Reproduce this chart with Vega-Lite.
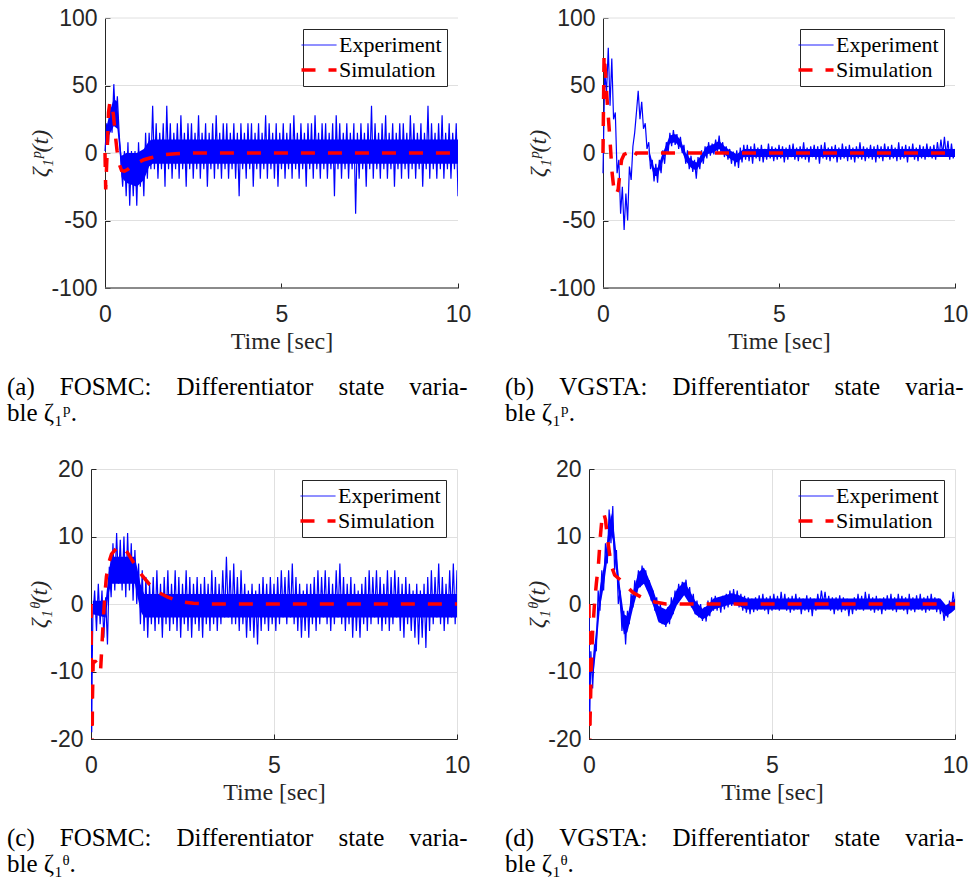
{
"$schema":"https://vega.github.io/schema/vega-lite/v6.json",
"padding":{"left":7,"top":7,"right":5,"bottom":5},
"background":"white",
"config":{
"view":{"stroke":null},
"axis":{"domainColor":"#262626","tickColor":"#262626","tickSize":-5,"labelFont":"Liberation Sans","labelFontSize":23,"labelColor":"#262626","labelFlush":false,"labelExpr":"'' + datum.value","gridColor":"#e0e0e0","titleFont":"Liberation Serif","titleFontSize":24,"titleFontWeight":"normal","titleColor":"#262626"},
"axisX":{"labelPadding":20,"titlePadding":3},
"axisY":{"labelPadding":13,"titlePadding":-2,"titleFontStyle":"italic"},
"legend":{"orient":"top-right","offset":11,"padding":5,"strokeColor":"#262626","fillColor":"white","cornerRadius":0,"labelFont":"Liberation Serif","labelFontSize":22,"labelColor":"#000000","symbolType":"stroke","symbolSize":1225,"symbolStrokeWidth":2,"rowPadding":3,"labelOffset":9,"labelLimit":0},
"title":{"orient":"bottom","anchor":"start","frame":"group","font":"Liberation Serif","fontSize":25,"fontWeight":"normal","color":"#000000","offset":22,"lineHeight":26}
},
"datasets":{
"gP":[{"g":-100},{"g":-50},{"g":0},{"g":50},{"g":100}],
"gB":[{"g":-100}],
"aB":[{"t":0.05,"lo":10,"hi":20},{"t":0.15,"lo":15,"hi":32},{"t":0.25,"lo":20,"hi":40},{"t":0.35,"lo":18,"hi":38},{"t":0.4,"lo":5,"hi":15},{"t":0.47,"lo":-18,"hi":-2},{"t":0.6,"lo":-22,"hi":0},{"t":0.9,"lo":-25,"hi":0},{"t":1.1,"lo":-20,"hi":3},{"t":1.25,"lo":-10,"hi":9},{"t":1.35,"lo":-8,"hi":10},{"t":10,"lo":-8,"hi":10}],
"bB":[{"t":1.3,"lo":-3,"hi":3},{"t":1.45,"lo":-17,"hi":-11},{"t":1.55,"lo":-17,"hi":-11},{"t":1.7,"lo":-6,"hi":0},{"t":1.9,"lo":7,"hi":13},{"t":2.05,"lo":8,"hi":14},{"t":2.2,"lo":4,"hi":10},{"t":2.35,"lo":-6,"hi":0},{"t":2.5,"lo":-11,"hi":-5},{"t":2.65,"lo":-13,"hi":-7},{"t":2.8,"lo":-7,"hi":-1},{"t":2.95,"lo":-1,"hi":5},{"t":3.1,"lo":0,"hi":6},{"t":3.3,"lo":3,"hi":9},{"t":3.45,"lo":-1,"hi":5},{"t":3.6,"lo":-4,"hi":2},{"t":3.8,"lo":-7,"hi":-1},{"t":4,"lo":-3,"hi":3},{"t":10,"lo":-3,"hi":3}],
"cB":[{"t":0.05,"lo":-1.5,"hi":0.5},{"t":0.4,"lo":-2,"hi":0.5},{"t":0.48,"lo":1.5,"hi":4.5},{"t":0.55,"lo":3,"hi":7},{"t":1.2,"lo":3,"hi":7},{"t":1.35,"lo":-1,"hi":3},{"t":1.45,"lo":-2,"hi":1.5},{"t":10,"lo":-2,"hi":1.5}],
"dB":[{"t":0.1,"lo":-11.5,"hi":-8.5},{"t":0.2,"lo":-6.5,"hi":-3.5},{"t":0.3,"lo":-0.5,"hi":2.5},{"t":0.4,"lo":2.5,"hi":5.5},{"t":0.5,"lo":6.5,"hi":9.5},{"t":0.6,"lo":10.5,"hi":13.5},{"t":0.65,"lo":9.5,"hi":12.5},{"t":0.75,"lo":4.5,"hi":7.5},{"t":0.85,"lo":-0.5,"hi":2.5},{"t":0.95,"lo":-4.5,"hi":-1.5},{"t":1.05,"lo":-4.2,"hi":-1.8},{"t":1.2,"lo":-0.7,"hi":1.7},{"t":1.35,"lo":2.3,"hi":4.7},{"t":1.5,"lo":3,"hi":5.4},{"t":1.6,"lo":1.8,"hi":4.2},{"t":1.75,"lo":-0.2,"hi":2.2},{"t":1.9,"lo":-2.7,"hi":-0.3},{"t":2.1,"lo":-3.2,"hi":-0.8},{"t":2.25,"lo":-2.2,"hi":0.2},{"t":2.4,"lo":-0.2,"hi":2.2},{"t":2.6,"lo":1.3,"hi":3.3},{"t":2.75,"lo":0,"hi":2},{"t":2.9,"lo":-1.5,"hi":0.5},{"t":3.1,"lo":-2.3,"hi":-0.7},{"t":3.25,"lo":-1.8,"hi":-0.2},{"t":3.4,"lo":-0.8,"hi":0.8},{"t":3.9,"lo":0,"hi":1.6},{"t":4.1,"lo":-0.3,"hi":1.3},{"t":4.3,"lo":-0.8,"hi":0.8},{"t":9.6,"lo":-0.8,"hi":0.8},{"t":9.75,"lo":-1.8,"hi":-0.2},{"t":9.9,"lo":-1.3,"hi":0.3},{"t":10,"lo":-0.8,"hi":0.8}],
"aE":[{"t":0,"y":1.5},{"t":0.05,"y":22},{"t":0.1,"y":8},{"t":0.15,"y":35},{"t":0.2,"y":15},{"t":0.25,"y":51},{"t":0.3,"y":22},{"t":0.35,"y":42},{"t":0.4,"y":15},{"t":0.45,"y":-5},{"t":0.5,"y":-25},{"t":0.55,"y":1.5},{"t":0.6,"y":-32},{"t":0.65,"y":8},{"t":0.7,"y":-39},{"t":0.75,"y":1.5},{"t":0.8,"y":-32},{"t":0.85,"y":1.5},{"t":0.9,"y":-39},{"t":0.95,"y":8},{"t":1,"y":-25},{"t":1.05,"y":1.5},{"t":1.1,"y":-32},{"t":1.15,"y":15},{"t":1.2,"y":-19},{"t":1.25,"y":15},{"t":1.3,"y":-12},{"t":1.35,"y":35},{"t":1.4,"y":-12},{"t":1.45,"y":22},{"t":1.5,"y":-19},{"t":1.55,"y":15},{"t":1.6,"y":-12},{"t":1.65,"y":22},{"t":1.7,"y":-25},{"t":1.75,"y":35},{"t":1.8,"y":-12},{"t":1.85,"y":22},{"t":1.9,"y":-19},{"t":1.95,"y":15},{"t":2,"y":-12},{"t":2.05,"y":22},{"t":2.1,"y":-19},{"t":2.15,"y":28},{"t":2.2,"y":-12},{"t":2.25,"y":15},{"t":2.3,"y":-25},{"t":2.35,"y":22},{"t":2.4,"y":-12},{"t":2.45,"y":22},{"t":2.5,"y":-19},{"t":2.55,"y":15},{"t":2.6,"y":-12},{"t":2.65,"y":28},{"t":2.7,"y":-19},{"t":2.75,"y":15},{"t":2.8,"y":-12},{"t":2.85,"y":22},{"t":2.9,"y":-25},{"t":2.95,"y":15},{"t":3,"y":-12},{"t":3.05,"y":22},{"t":3.1,"y":-19},{"t":3.15,"y":28},{"t":3.2,"y":-12},{"t":3.25,"y":15},{"t":3.3,"y":-19},{"t":3.35,"y":22},{"t":3.4,"y":-12},{"t":3.45,"y":22},{"t":3.5,"y":-19},{"t":3.55,"y":15},{"t":3.6,"y":-12},{"t":3.65,"y":22},{"t":3.7,"y":-19},{"t":3.75,"y":15},{"t":3.8,"y":-32},{"t":3.85,"y":22},{"t":3.9,"y":-12},{"t":3.95,"y":15},{"t":4,"y":-19},{"t":4.05,"y":22},{"t":4.1,"y":-12},{"t":4.15,"y":22},{"t":4.2,"y":-25},{"t":4.25,"y":15},{"t":4.3,"y":-12},{"t":4.35,"y":22},{"t":4.4,"y":-19},{"t":4.45,"y":15},{"t":4.5,"y":-12},{"t":4.55,"y":28},{"t":4.6,"y":-19},{"t":4.65,"y":22},{"t":4.7,"y":-12},{"t":4.75,"y":15},{"t":4.8,"y":-19},{"t":4.85,"y":22},{"t":4.9,"y":-25},{"t":4.95,"y":15},{"t":5,"y":-12},{"t":5.05,"y":22},{"t":5.1,"y":-19},{"t":5.15,"y":15},{"t":5.2,"y":-12},{"t":5.25,"y":22},{"t":5.3,"y":-19},{"t":5.35,"y":28},{"t":5.4,"y":-12},{"t":5.45,"y":15},{"t":5.5,"y":-19},{"t":5.55,"y":22},{"t":5.6,"y":-12},{"t":5.65,"y":15},{"t":5.7,"y":-25},{"t":5.75,"y":22},{"t":5.8,"y":-12},{"t":5.85,"y":22},{"t":5.9,"y":-19},{"t":5.95,"y":28},{"t":6,"y":-12},{"t":6.05,"y":15},{"t":6.1,"y":-19},{"t":6.15,"y":22},{"t":6.2,"y":-12},{"t":6.25,"y":22},{"t":6.3,"y":-19},{"t":6.35,"y":15},{"t":6.4,"y":-12},{"t":6.45,"y":22},{"t":6.5,"y":-32},{"t":6.55,"y":28},{"t":6.6,"y":-12},{"t":6.65,"y":22},{"t":6.7,"y":-19},{"t":6.75,"y":15},{"t":6.8,"y":-12},{"t":6.85,"y":22},{"t":6.9,"y":-19},{"t":6.95,"y":15},{"t":7,"y":-12},{"t":7.05,"y":22},{"t":7.1,"y":-45},{"t":7.15,"y":15},{"t":7.2,"y":-19},{"t":7.25,"y":22},{"t":7.3,"y":-12},{"t":7.35,"y":15},{"t":7.4,"y":-25},{"t":7.45,"y":22},{"t":7.5,"y":-12},{"t":7.55,"y":35},{"t":7.6,"y":-19},{"t":7.65,"y":22},{"t":7.7,"y":-12},{"t":7.75,"y":15},{"t":7.8,"y":-19},{"t":7.85,"y":22},{"t":7.9,"y":-12},{"t":7.95,"y":28},{"t":8,"y":-19},{"t":8.05,"y":15},{"t":8.1,"y":-12},{"t":8.15,"y":22},{"t":8.2,"y":-25},{"t":8.25,"y":15},{"t":8.3,"y":-12},{"t":8.35,"y":22},{"t":8.4,"y":-19},{"t":8.45,"y":22},{"t":8.5,"y":-12},{"t":8.55,"y":15},{"t":8.6,"y":-19},{"t":8.65,"y":28},{"t":8.7,"y":-12},{"t":8.75,"y":22},{"t":8.8,"y":-19},{"t":8.85,"y":15},{"t":8.9,"y":-12},{"t":8.95,"y":22},{"t":9,"y":-25},{"t":9.05,"y":15},{"t":9.1,"y":-12},{"t":9.15,"y":35},{"t":9.2,"y":-19},{"t":9.25,"y":22},{"t":9.3,"y":-12},{"t":9.35,"y":15},{"t":9.4,"y":-19},{"t":9.45,"y":22},{"t":9.5,"y":-12},{"t":9.55,"y":28},{"t":9.6,"y":-19},{"t":9.65,"y":15},{"t":9.7,"y":-12},{"t":9.75,"y":22},{"t":9.8,"y":-19},{"t":9.85,"y":15},{"t":9.9,"y":-12},{"t":9.95,"y":22},{"t":10,"y":-32}],
"aS":[{"t":0,"y":0},{"t":0.02,"y":-27},{"t":0.06,"y":0},{"t":0.1,"y":30},{"t":0.14,"y":38},{"t":0.19,"y":36},{"t":0.24,"y":28},{"t":0.29,"y":14},{"t":0.34,"y":2},{"t":0.4,"y":-8},{"t":0.47,"y":-13},{"t":0.55,"y":-13.5},{"t":0.65,"y":-12},{"t":0.8,"y":-9},{"t":0.95,"y":-7},{"t":1.1,"y":-5},{"t":1.3,"y":-3.5},{"t":1.6,"y":-1.5},{"t":2,"y":-0.5},{"t":2.5,"y":0},{"t":10,"y":0}],
"bE":[{"t":0,"y":-15},{"t":0.05,"y":60},{"t":0.1,"y":45},{"t":0.15,"y":78},{"t":0.2,"y":35},{"t":0.25,"y":70},{"t":0.3,"y":25},{"t":0.35,"y":30},{"t":0.4,"y":-15},{"t":0.45,"y":-5},{"t":0.5,"y":-45},{"t":0.55,"y":-25},{"t":0.6,"y":-57},{"t":0.65,"y":-30},{"t":0.7,"y":-50},{"t":0.75,"y":-10},{"t":0.8,"y":-20},{"t":0.85,"y":5},{"t":0.9,"y":15},{"t":0.95,"y":30},{"t":1,"y":46},{"t":1.05,"y":25},{"t":1.1,"y":38},{"t":1.15,"y":18},{"t":1.2,"y":22},{"t":1.25,"y":3},{"t":1.3,"y":8},{"t":1.35,"y":-12},{"t":1.4,"y":-5},{"t":1.45,"y":-21},{"t":1.5,"y":-8},{"t":1.55,"y":-22},{"t":1.6,"y":-5},{"t":1.65,"y":-15},{"t":1.7,"y":2},{"t":1.75,"y":-8},{"t":1.8,"y":8},{"t":1.85,"y":0},{"t":1.9,"y":15},{"t":1.95,"y":5},{"t":2,"y":17},{"t":2.05,"y":6},{"t":2.1,"y":14},{"t":2.15,"y":3},{"t":2.2,"y":12},{"t":2.25,"y":0},{"t":2.3,"y":6},{"t":2.35,"y":-8},{"t":2.4,"y":2},{"t":2.45,"y":-12},{"t":2.5,"y":-2},{"t":2.55,"y":-14},{"t":2.6,"y":-5},{"t":2.65,"y":-19},{"t":2.7,"y":-3},{"t":2.75,"y":-12},{"t":2.8,"y":2},{"t":2.85,"y":-8},{"t":2.9,"y":5},{"t":2.95,"y":-4},{"t":3,"y":8},{"t":3.05,"y":-2},{"t":3.1,"y":7},{"t":3.15,"y":-1},{"t":3.2,"y":10},{"t":3.25,"y":1},{"t":3.3,"y":13},{"t":3.35,"y":0},{"t":3.4,"y":8},{"t":3.45,"y":-3},{"t":3.5,"y":5},{"t":3.55,"y":-5},{"t":3.6,"y":3},{"t":3.65,"y":-8},{"t":3.7,"y":1},{"t":3.75,"y":-10},{"t":3.8,"y":2},{"t":3.85,"y":-11},{"t":3.9,"y":4},{"t":3.95,"y":-7},{"t":4,"y":6},{"t":4.05,"y":-5},{"t":4.1,"y":6},{"t":4.15,"y":-6},{"t":4.2,"y":5},{"t":4.25,"y":-8},{"t":4.3,"y":7},{"t":4.35,"y":-4},{"t":4.4,"y":4},{"t":4.45,"y":-6},{"t":4.5,"y":6},{"t":4.55,"y":-7},{"t":4.6,"y":3},{"t":4.65,"y":-5},{"t":4.7,"y":7},{"t":4.75,"y":-4},{"t":4.8,"y":5},{"t":4.85,"y":-6},{"t":4.9,"y":4},{"t":4.95,"y":-5},{"t":5,"y":6},{"t":5.05,"y":-4},{"t":5.1,"y":5},{"t":5.15,"y":-7},{"t":5.2,"y":4},{"t":5.25,"y":-5},{"t":5.3,"y":6},{"t":5.35,"y":-3},{"t":5.4,"y":7},{"t":5.45,"y":-5},{"t":5.5,"y":4},{"t":5.55,"y":-6},{"t":5.6,"y":5},{"t":5.65,"y":-4},{"t":5.7,"y":8},{"t":5.75,"y":-5},{"t":5.8,"y":4},{"t":5.85,"y":-7},{"t":5.9,"y":5},{"t":5.95,"y":-3},{"t":6,"y":6},{"t":6.05,"y":-5},{"t":6.1,"y":5},{"t":6.15,"y":-8},{"t":6.2,"y":6},{"t":6.25,"y":-4},{"t":6.3,"y":8},{"t":6.35,"y":-5},{"t":6.4,"y":4},{"t":6.45,"y":-6},{"t":6.5,"y":5},{"t":6.55,"y":-4},{"t":6.6,"y":6},{"t":6.65,"y":-7},{"t":6.7,"y":4},{"t":6.75,"y":-5},{"t":6.8,"y":7},{"t":6.85,"y":-4},{"t":6.9,"y":5},{"t":6.95,"y":-6},{"t":7,"y":6},{"t":7.05,"y":-5},{"t":7.1,"y":4},{"t":7.15,"y":-7},{"t":7.2,"y":5},{"t":7.25,"y":-4},{"t":7.3,"y":8},{"t":7.35,"y":-5},{"t":7.4,"y":5},{"t":7.45,"y":-6},{"t":7.5,"y":4},{"t":7.55,"y":-4},{"t":7.6,"y":6},{"t":7.65,"y":-5},{"t":7.7,"y":5},{"t":7.75,"y":-7},{"t":7.8,"y":6},{"t":7.85,"y":-4},{"t":7.9,"y":5},{"t":7.95,"y":-6},{"t":8,"y":7},{"t":8.05,"y":-3},{"t":8.1,"y":5},{"t":8.15,"y":-5},{"t":8.2,"y":6},{"t":8.25,"y":-4},{"t":8.3,"y":4},{"t":8.35,"y":-6},{"t":8.4,"y":8},{"t":8.45,"y":-5},{"t":8.5,"y":5},{"t":8.55,"y":-4},{"t":8.6,"y":6},{"t":8.65,"y":-7},{"t":8.7,"y":5},{"t":8.75,"y":-3},{"t":8.8,"y":7},{"t":8.85,"y":-5},{"t":8.9,"y":4},{"t":8.95,"y":-6},{"t":9,"y":6},{"t":9.05,"y":-4},{"t":9.1,"y":5},{"t":9.15,"y":-5},{"t":9.2,"y":7},{"t":9.25,"y":-3},{"t":9.3,"y":5},{"t":9.35,"y":-4},{"t":9.4,"y":6},{"t":9.45,"y":-5},{"t":9.5,"y":8},{"t":9.55,"y":-2},{"t":9.6,"y":10},{"t":9.65,"y":-1},{"t":9.7,"y":12},{"t":9.75,"y":-2},{"t":9.8,"y":9},{"t":9.85,"y":-5},{"t":9.9,"y":7},{"t":9.95,"y":-4},{"t":10,"y":3}],
"bS":[{"t":0,"y":0},{"t":0.03,"y":73},{"t":0.07,"y":60},{"t":0.12,"y":38},{"t":0.17,"y":20},{"t":0.21,"y":5},{"t":0.26,"y":-15},{"t":0.31,"y":-27},{"t":0.37,"y":-31},{"t":0.43,"y":-27},{"t":0.48,"y":-15},{"t":0.53,"y":-5},{"t":0.6,"y":-1},{"t":0.7,"y":0},{"t":0.8,"y":-4},{"t":0.88,"y":-3},{"t":0.95,"y":0},{"t":1.2,"y":0},{"t":10,"y":0}],
"cE":[{"t":0,"y":0},{"t":0.02,"y":-19},{"t":0.035,"y":-8},{"t":0.05,"y":-2},{"t":0.1,"y":2},{"t":0.15,"y":-4},{"t":0.2,"y":3},{"t":0.25,"y":-3},{"t":0.3,"y":2},{"t":0.35,"y":-5},{"t":0.4,"y":1},{"t":0.45,"y":-6},{"t":0.5,"y":5.5},{"t":0.55,"y":1},{"t":0.6,"y":9},{"t":0.65,"y":2},{"t":0.7,"y":10.5},{"t":0.75,"y":3},{"t":0.8,"y":9.5},{"t":0.85,"y":2},{"t":0.9,"y":10},{"t":0.95,"y":1},{"t":1,"y":10.5},{"t":1.05,"y":2},{"t":1.1,"y":9},{"t":1.15,"y":0.5},{"t":1.2,"y":8},{"t":1.25,"y":0},{"t":1.3,"y":6},{"t":1.35,"y":-3},{"t":1.4,"y":5},{"t":1.45,"y":-4},{"t":1.5,"y":4},{"t":1.55,"y":-5},{"t":1.6,"y":3},{"t":1.65,"y":-3},{"t":1.7,"y":4},{"t":1.75,"y":-4},{"t":1.8,"y":5},{"t":1.85,"y":-3},{"t":1.9,"y":3},{"t":1.95,"y":-5},{"t":2,"y":4},{"t":2.05,"y":-3},{"t":2.1,"y":5},{"t":2.15,"y":-4},{"t":2.2,"y":3},{"t":2.25,"y":-3},{"t":2.3,"y":5},{"t":2.35,"y":-4},{"t":2.4,"y":4},{"t":2.45,"y":-5},{"t":2.5,"y":3},{"t":2.55,"y":-3},{"t":2.6,"y":5},{"t":2.65,"y":-4},{"t":2.7,"y":4},{"t":2.75,"y":-5},{"t":2.8,"y":3},{"t":2.85,"y":-3},{"t":2.9,"y":4},{"t":2.95,"y":-4},{"t":3,"y":3},{"t":3.05,"y":-5},{"t":3.1,"y":4},{"t":3.15,"y":-3},{"t":3.2,"y":3},{"t":3.25,"y":-4},{"t":3.3,"y":5},{"t":3.35,"y":-3},{"t":3.4,"y":4},{"t":3.45,"y":-4},{"t":3.5,"y":3},{"t":3.55,"y":-3},{"t":3.6,"y":5},{"t":3.65,"y":-2},{"t":3.7,"y":7},{"t":3.75,"y":-2},{"t":3.8,"y":5},{"t":3.85,"y":-3},{"t":3.9,"y":6},{"t":3.95,"y":-3},{"t":4,"y":4},{"t":4.05,"y":-4},{"t":4.1,"y":5},{"t":4.15,"y":-3},{"t":4.2,"y":3},{"t":4.25,"y":-5},{"t":4.3,"y":2},{"t":4.35,"y":-4},{"t":4.4,"y":3},{"t":4.45,"y":-5},{"t":4.5,"y":2},{"t":4.55,"y":-6},{"t":4.6,"y":3},{"t":4.65,"y":-4},{"t":4.7,"y":4},{"t":4.75,"y":-3},{"t":4.8,"y":3},{"t":4.85,"y":-4},{"t":4.9,"y":4},{"t":4.95,"y":-3},{"t":5,"y":3},{"t":5.05,"y":-4},{"t":5.1,"y":4},{"t":5.15,"y":-3},{"t":5.2,"y":5},{"t":5.25,"y":-2},{"t":5.3,"y":4},{"t":5.35,"y":-3},{"t":5.4,"y":5},{"t":5.45,"y":-2},{"t":5.5,"y":6},{"t":5.55,"y":-3},{"t":5.6,"y":4},{"t":5.65,"y":-4},{"t":5.7,"y":3},{"t":5.75,"y":-5},{"t":5.8,"y":2},{"t":5.85,"y":-4},{"t":5.9,"y":3},{"t":5.95,"y":-5},{"t":6,"y":3},{"t":6.05,"y":-3},{"t":6.1,"y":4},{"t":6.15,"y":-4},{"t":6.2,"y":5},{"t":6.25,"y":-3},{"t":6.3,"y":4},{"t":6.35,"y":-2},{"t":6.4,"y":5},{"t":6.45,"y":-3},{"t":6.5,"y":4},{"t":6.55,"y":-4},{"t":6.6,"y":3},{"t":6.65,"y":-3},{"t":6.7,"y":5},{"t":6.75,"y":-2},{"t":6.8,"y":6},{"t":6.85,"y":-3},{"t":6.9,"y":4},{"t":6.95,"y":-4},{"t":7,"y":3},{"t":7.05,"y":-3},{"t":7.1,"y":4},{"t":7.15,"y":-5},{"t":7.2,"y":3},{"t":7.25,"y":-4},{"t":7.3,"y":2},{"t":7.35,"y":-5},{"t":7.4,"y":3},{"t":7.45,"y":-3},{"t":7.5,"y":4},{"t":7.55,"y":-4},{"t":7.6,"y":5},{"t":7.65,"y":-3},{"t":7.7,"y":4},{"t":7.75,"y":-2},{"t":7.8,"y":5},{"t":7.85,"y":-3},{"t":7.9,"y":4},{"t":7.95,"y":-4},{"t":8,"y":3},{"t":8.05,"y":-3},{"t":8.1,"y":5},{"t":8.15,"y":-4},{"t":8.2,"y":4},{"t":8.25,"y":-3},{"t":8.3,"y":5},{"t":8.35,"y":-2},{"t":8.4,"y":4},{"t":8.45,"y":-4},{"t":8.5,"y":3},{"t":8.55,"y":-5},{"t":8.6,"y":4},{"t":8.65,"y":-3},{"t":8.7,"y":3},{"t":8.75,"y":-4},{"t":8.8,"y":2},{"t":8.85,"y":-5},{"t":8.9,"y":3},{"t":8.95,"y":-6},{"t":9,"y":2},{"t":9.05,"y":-5},{"t":9.1,"y":3},{"t":9.15,"y":-6.5},{"t":9.2,"y":4},{"t":9.25,"y":-4},{"t":9.3,"y":5},{"t":9.35,"y":-3},{"t":9.4,"y":4},{"t":9.45,"y":-2},{"t":9.5,"y":6},{"t":9.55,"y":-3},{"t":9.6,"y":4},{"t":9.65,"y":-4},{"t":9.7,"y":3},{"t":9.75,"y":-3},{"t":9.8,"y":5},{"t":9.85,"y":-2},{"t":9.9,"y":6},{"t":9.95,"y":-3},{"t":10,"y":5}],
"cS":[{"t":0,"y":0},{"t":0.012,"y":-12},{"t":0.025,"y":-25},{"t":0.04,"y":-14},{"t":0.06,"y":-8.5},{"t":0.12,"y":-8.5},{"t":0.2,"y":-9},{"t":0.26,"y":-10},{"t":0.3,"y":-6},{"t":0.34,"y":-2},{"t":0.38,"y":1.5},{"t":0.42,"y":4},{"t":0.48,"y":6},{"t":0.56,"y":7.4},{"t":0.7,"y":8.3},{"t":0.85,"y":8.5},{"t":1,"y":7.6},{"t":1.2,"y":5.8},{"t":1.4,"y":4.2},{"t":1.6,"y":2.9},{"t":1.85,"y":1.7},{"t":2.1,"y":1},{"t":2.4,"y":0.4},{"t":2.8,"y":0.1},{"t":3.2,"y":0},{"t":10,"y":0}],
"dE":[{"t":0,"y":0},{"t":0.02,"y":-17},{"t":0.05,"y":-7},{"t":0.1,"y":-12.5},{"t":0.15,"y":-6},{"t":0.2,"y":-7},{"t":0.25,"y":2},{"t":0.3,"y":-1},{"t":0.35,"y":5},{"t":0.4,"y":2},{"t":0.45,"y":9},{"t":0.5,"y":6},{"t":0.55,"y":14},{"t":0.6,"y":9},{"t":0.65,"y":14.5},{"t":0.7,"y":5},{"t":0.75,"y":8},{"t":0.8,"y":0},{"t":0.85,"y":2},{"t":0.9,"y":-4},{"t":0.95,"y":-1},{"t":1,"y":-6},{"t":1.05,"y":-1},{"t":1.1,"y":-3},{"t":1.15,"y":1.5},{"t":1.2,"y":-0.5},{"t":1.25,"y":3.5},{"t":1.3,"y":1.5},{"t":1.35,"y":5},{"t":1.4,"y":2.5},{"t":1.45,"y":5.7},{"t":1.5,"y":3},{"t":1.55,"y":5},{"t":1.6,"y":2},{"t":1.65,"y":3.5},{"t":1.7,"y":0.5},{"t":1.75,"y":2},{"t":1.8,"y":-1},{"t":1.85,"y":1},{"t":1.9,"y":-2.5},{"t":1.95,"y":0},{"t":2,"y":-3},{"t":2.05,"y":-1},{"t":2.1,"y":-3.4},{"t":2.15,"y":-0.5},{"t":2.2,"y":-3},{"t":2.25,"y":1},{"t":2.3,"y":-1.5},{"t":2.35,"y":2},{"t":2.4,"y":0},{"t":2.45,"y":3},{"t":2.5,"y":1},{"t":2.55,"y":3.3},{"t":2.6,"y":1.5},{"t":2.65,"y":3.6},{"t":2.7,"y":1},{"t":2.75,"y":2.5},{"t":2.8,"y":-0.5},{"t":2.85,"y":1.5},{"t":2.9,"y":-1.5},{"t":2.95,"y":0.5},{"t":3,"y":-2},{"t":3.05,"y":0},{"t":3.1,"y":-2.5},{"t":3.15,"y":-0.5},{"t":3.2,"y":-2.6},{"t":3.25,"y":0.5},{"t":3.3,"y":-1.8},{"t":3.35,"y":1},{"t":3.4,"y":-1},{"t":3.45,"y":1.2},{"t":3.5,"y":-1},{"t":3.55,"y":1},{"t":3.6,"y":-1.3},{"t":3.65,"y":1.2},{"t":3.7,"y":-0.8},{"t":3.75,"y":1.5},{"t":3.8,"y":-0.5},{"t":3.85,"y":2},{"t":3.9,"y":-0.3},{"t":3.95,"y":2.2},{"t":4,"y":0},{"t":4.05,"y":2},{"t":4.1,"y":-0.5},{"t":4.15,"y":1.5},{"t":4.2,"y":-1},{"t":4.25,"y":1.2},{"t":4.3,"y":-1.3},{"t":4.35,"y":1},{"t":4.4,"y":-1.5},{"t":4.45,"y":0.8},{"t":4.5,"y":-1.2},{"t":4.55,"y":1},{"t":4.6,"y":-1},{"t":4.65,"y":1.3},{"t":4.7,"y":-0.8},{"t":4.75,"y":1.5},{"t":4.8,"y":-1},{"t":4.85,"y":1},{"t":4.9,"y":-1.5},{"t":4.95,"y":1.2},{"t":5,"y":-1},{"t":5.05,"y":1.5},{"t":5.1,"y":-0.8},{"t":5.15,"y":1.2},{"t":5.2,"y":-1},{"t":5.25,"y":1.8},{"t":5.3,"y":-0.5},{"t":5.35,"y":1.5},{"t":5.4,"y":-1},{"t":5.45,"y":1},{"t":5.5,"y":-1.3},{"t":5.55,"y":1.2},{"t":5.6,"y":-1},{"t":5.65,"y":1.5},{"t":5.7,"y":-0.8},{"t":5.75,"y":1},{"t":5.8,"y":-1.5},{"t":5.85,"y":0.8},{"t":5.9,"y":-1},{"t":5.95,"y":1.3},{"t":6,"y":-1.2},{"t":6.05,"y":1},{"t":6.1,"y":-1.8},{"t":6.15,"y":0.8},{"t":6.2,"y":-1},{"t":6.25,"y":1.5},{"t":6.3,"y":-0.3},{"t":6.35,"y":2},{"t":6.4,"y":0},{"t":6.45,"y":1.8},{"t":6.5,"y":-0.5},{"t":6.55,"y":1.2},{"t":6.6,"y":-1},{"t":6.65,"y":1},{"t":6.7,"y":-1.5},{"t":6.75,"y":1},{"t":6.8,"y":-1},{"t":6.85,"y":1.3},{"t":6.9,"y":-1.2},{"t":6.95,"y":1},{"t":7,"y":-1},{"t":7.05,"y":0.8},{"t":7.1,"y":-1.8},{"t":7.15,"y":0.5},{"t":7.2,"y":-1.5},{"t":7.25,"y":1},{"t":7.3,"y":-1},{"t":7.35,"y":1.5},{"t":7.4,"y":-0.8},{"t":7.45,"y":1.2},{"t":7.5,"y":-1},{"t":7.55,"y":1.8},{"t":7.6,"y":-0.5},{"t":7.65,"y":1.5},{"t":7.7,"y":-1},{"t":7.75,"y":1},{"t":7.8,"y":-1.3},{"t":7.85,"y":1.2},{"t":7.9,"y":-1},{"t":7.95,"y":0.8},{"t":8,"y":-1.5},{"t":8.05,"y":1},{"t":8.1,"y":-1},{"t":8.15,"y":1.3},{"t":8.2,"y":-0.8},{"t":8.25,"y":1.5},{"t":8.3,"y":-1},{"t":8.35,"y":1},{"t":8.4,"y":-1.2},{"t":8.45,"y":1.5},{"t":8.5,"y":-0.8},{"t":8.55,"y":1.2},{"t":8.6,"y":-1},{"t":8.65,"y":1},{"t":8.7,"y":-1.5},{"t":8.75,"y":1.5},{"t":8.8,"y":-1},{"t":8.85,"y":1},{"t":8.9,"y":-1.2},{"t":8.95,"y":1.3},{"t":9,"y":-0.8},{"t":9.05,"y":1.5},{"t":9.1,"y":-1},{"t":9.15,"y":1},{"t":9.2,"y":-1.3},{"t":9.25,"y":1.2},{"t":9.3,"y":-1},{"t":9.35,"y":1.5},{"t":9.4,"y":-0.8},{"t":9.45,"y":1},{"t":9.5,"y":-1.2},{"t":9.55,"y":0.8},{"t":9.6,"y":-1.5},{"t":9.65,"y":0},{"t":9.7,"y":-2.5},{"t":9.75,"y":-0.5},{"t":9.8,"y":-2},{"t":9.85,"y":0.5},{"t":9.9,"y":-1},{"t":9.95,"y":1.8},{"t":10,"y":-0.5}],
"dS":[{"t":0,"y":0},{"t":0.01,"y":-25},{"t":0.03,"y":-17},{"t":0.06,"y":-10},{"t":0.1,"y":-4},{"t":0.15,"y":0},{"t":0.2,"y":3},{"t":0.26,"y":6},{"t":0.31,"y":10},{"t":0.36,"y":13},{"t":0.4,"y":13.5},{"t":0.45,"y":12.5},{"t":0.5,"y":10},{"t":0.56,"y":7.5},{"t":0.62,"y":5.5},{"t":0.7,"y":4.3},{"t":0.85,"y":3.6},{"t":1,"y":2.8},{"t":1.2,"y":1.7},{"t":1.5,"y":0.8},{"t":1.8,"y":0.3},{"t":2.1,"y":0},{"t":10,"y":0}]
},
"resolve":{"scale":{"color":"independent","strokeDash":"independent"},"legend":{"color":"independent","strokeDash":"independent"}},
"columns":2,
"align":{"row":"each","column":"none"},
"spacing":{"row":32,"column":34},
"concat":[
{"width":367,"height":270,
"title":{"text":["(a)\u00a0\u00a0\u00a0\u00a0FOSMC:\u00a0\u00a0\u00a0\u00a0Differentiator\u00a0\u00a0\u00a0\u00a0state\u00a0\u00a0\u00a0\u00a0varia-","ble ζ₁ᵖ."],"dx":-84},
"layer":[
{"data":{"name":"gP"},"mark":{"type":"rule","color":"#e0e0e0","strokeWidth":1},
"encoding":{"y":{"field":"g","type":"quantitative","scale":{"domain":[-100,100],"nice":false}},"x":{"datum":0,"type":"quantitative","scale":{"domain":[-0.3966,10],"nice":false}},"x2":{"datum":10}}},
{"data":{"name":"gB"},"mark":{"type":"rule","color":"#262626","strokeWidth":1},
"encoding":{"y":{"field":"g","type":"quantitative"},"x":{"datum":0,"type":"quantitative"},"x2":{"datum":10}}},
{"data":{"name":"aB"},"mark":{"type":"area","color":"#0000ff","clip":true},
"encoding":{"x":{"field":"t","type":"quantitative"},"y":{"field":"lo","type":"quantitative"},"y2":{"field":"hi"}}},
{"data":{"name":"aE"},"mark":{"type":"line","clip":true,"strokeWidth":1.2},
"encoding":{
"x":{"field":"t","type":"quantitative","scale":{"domain":[-0.3966,10],"nice":false},"axis":{"values":[0,5,10],"title":"Time [sec]","domain":false,"titleX":190.5}},
"y":{"field":"y","type":"quantitative","scale":{"domain":[-100,100],"nice":false},"axis":{"values":[-100,-50,0,50,100],"title":"ζ₁ᵖ(t)","offset":-14,"grid":false}},
"color":{"datum":"Experiment","type":"nominal","scale":{"domain":["Experiment","Simulation"],"range":["#0000ff","#ff0000"]},"legend":{"title":null,"encode":{"symbols":{"update":{"strokeWidth":{"signal":"datum.value === 'Simulation' ? 3.5 : 1"}}}}}},
"strokeDash":{"datum":"Experiment","type":"nominal","scale":{"domain":["Experiment","Simulation"],"range":[[1,0],[14,13]]},"legend":{"title":null}}}},
{"data":{"name":"aS"},"mark":{"type":"line","clip":true,"strokeWidth":3.5},
"encoding":{"x":{"field":"t","type":"quantitative"},"y":{"field":"y","type":"quantitative"},"color":{"datum":"Simulation","type":"nominal"},"strokeDash":{"datum":"Simulation","type":"nominal"}}}
]},
{"width":366,"height":270,
"title":{"text":["(b)\u00a0\u00a0\u00a0\u00a0VGSTA:\u00a0\u00a0\u00a0\u00a0Differentiator\u00a0\u00a0\u00a0\u00a0state\u00a0\u00a0\u00a0\u00a0varia-","ble ζ₁ᵖ."],"dx":-84},
"layer":[
{"data":{"name":"gP"},"mark":{"type":"rule","color":"#e0e0e0","strokeWidth":1},
"encoding":{"y":{"field":"g","type":"quantitative","scale":{"domain":[-100,100],"nice":false}},"x":{"datum":0,"type":"quantitative","scale":{"domain":[-0.3977,10],"nice":false}},"x2":{"datum":10}}},
{"data":{"name":"gB"},"mark":{"type":"rule","color":"#262626","strokeWidth":1},
"encoding":{"y":{"field":"g","type":"quantitative"},"x":{"datum":0,"type":"quantitative"},"x2":{"datum":10}}},
{"data":{"name":"bB"},"mark":{"type":"area","color":"#0000ff","clip":true},
"encoding":{"x":{"field":"t","type":"quantitative"},"y":{"field":"lo","type":"quantitative"},"y2":{"field":"hi"}}},
{"data":{"name":"bE"},"mark":{"type":"line","clip":true,"strokeWidth":1.2},
"encoding":{
"x":{"field":"t","type":"quantitative","scale":{"domain":[-0.3977,10],"nice":false},"axis":{"values":[0,5,10],"title":"Time [sec]","domain":false,"titleX":190}},
"y":{"field":"y","type":"quantitative","scale":{"domain":[-100,100],"nice":false},"axis":{"values":[-100,-50,0,50,100],"title":"ζ₁ᵖ(t)","offset":-14,"grid":false}},
"color":{"datum":"Experiment","type":"nominal","scale":{"domain":["Experiment","Simulation"],"range":["#0000ff","#ff0000"]},"legend":{"title":null,"encode":{"symbols":{"update":{"strokeWidth":{"signal":"datum.value === 'Simulation' ? 3.5 : 1"}}}}}},
"strokeDash":{"datum":"Experiment","type":"nominal","scale":{"domain":["Experiment","Simulation"],"range":[[1,0],[14,13]]},"legend":{"title":null}}}},
{"data":{"name":"bS"},"mark":{"type":"line","clip":true,"strokeWidth":3.5},
"encoding":{"x":{"field":"t","type":"quantitative"},"y":{"field":"y","type":"quantitative"},"color":{"datum":"Simulation","type":"nominal"},"strokeDash":{"datum":"Simulation","type":"nominal"}}}
]},
{"width":366,"height":270,
"title":{"text":["(c)\u00a0\u00a0\u00a0\u00a0FOSMC:\u00a0\u00a0\u00a0\u00a0Differentiator\u00a0\u00a0\u00a0\u00a0state\u00a0\u00a0\u00a0\u00a0varia-","ble ζ₁ᶿ."],"dx":-84},
"layer":[
{"data":{"name":"cB"},"mark":{"type":"area","color":"#0000ff","clip":true},
"encoding":{"x":{"field":"t","type":"quantitative","scale":{"domain":[0,10],"nice":false}},"y":{"field":"lo","type":"quantitative","scale":{"domain":[-20,20],"nice":false}},"y2":{"field":"hi"}}},
{"data":{"name":"cE"},"mark":{"type":"line","clip":true,"strokeWidth":1.2},
"encoding":{
"x":{"field":"t","type":"quantitative","scale":{"domain":[0,10],"nice":false},"axis":{"values":[0,5,10],"title":"Time [sec]"}},
"y":{"field":"y","type":"quantitative","scale":{"domain":[-20,20],"nice":false},"axis":{"values":[-20,-10,0,10,20],"title":"ζ₁ᶿ(t)"}},
"color":{"datum":"Experiment","type":"nominal","scale":{"domain":["Experiment","Simulation"],"range":["#0000ff","#ff0000"]},"legend":{"title":null,"encode":{"symbols":{"update":{"strokeWidth":{"signal":"datum.value === 'Simulation' ? 3.5 : 1"}}}}}},
"strokeDash":{"datum":"Experiment","type":"nominal","scale":{"domain":["Experiment","Simulation"],"range":[[1,0],[14,13]]},"legend":{"title":null}}}},
{"data":{"name":"cS"},"mark":{"type":"line","clip":true,"strokeWidth":3.5},
"encoding":{"x":{"field":"t","type":"quantitative"},"y":{"field":"y","type":"quantitative"},"color":{"datum":"Simulation","type":"nominal"},"strokeDash":{"datum":"Simulation","type":"nominal"}}}
]},
{"width":366,"height":270,
"title":{"text":["(d)\u00a0\u00a0\u00a0\u00a0VGSTA:\u00a0\u00a0\u00a0\u00a0Differentiator\u00a0\u00a0\u00a0\u00a0state\u00a0\u00a0\u00a0\u00a0varia-","ble ζ₁ᶿ."],"dx":-84},
"layer":[
{"data":{"name":"dB"},"mark":{"type":"area","color":"#0000ff","clip":true},
"encoding":{"x":{"field":"t","type":"quantitative","scale":{"domain":[0,10],"nice":false}},"y":{"field":"lo","type":"quantitative","scale":{"domain":[-20,20],"nice":false}},"y2":{"field":"hi"}}},
{"data":{"name":"dE"},"mark":{"type":"line","clip":true,"strokeWidth":1.2},
"encoding":{
"x":{"field":"t","type":"quantitative","scale":{"domain":[0,10],"nice":false},"axis":{"values":[0,5,10],"title":"Time [sec]"}},
"y":{"field":"y","type":"quantitative","scale":{"domain":[-20,20],"nice":false},"axis":{"values":[-20,-10,0,10,20],"title":"ζ₁ᶿ(t)"}},
"color":{"datum":"Experiment","type":"nominal","scale":{"domain":["Experiment","Simulation"],"range":["#0000ff","#ff0000"]},"legend":{"title":null,"encode":{"symbols":{"update":{"strokeWidth":{"signal":"datum.value === 'Simulation' ? 3.5 : 1"}}}}}},
"strokeDash":{"datum":"Experiment","type":"nominal","scale":{"domain":["Experiment","Simulation"],"range":[[1,0],[14,13]]},"legend":{"title":null}}}},
{"data":{"name":"dS"},"mark":{"type":"line","clip":true,"strokeWidth":3.5},
"encoding":{"x":{"field":"t","type":"quantitative"},"y":{"field":"y","type":"quantitative"},"color":{"datum":"Simulation","type":"nominal"},"strokeDash":{"datum":"Simulation","type":"nominal"}}}
]}
]
}
